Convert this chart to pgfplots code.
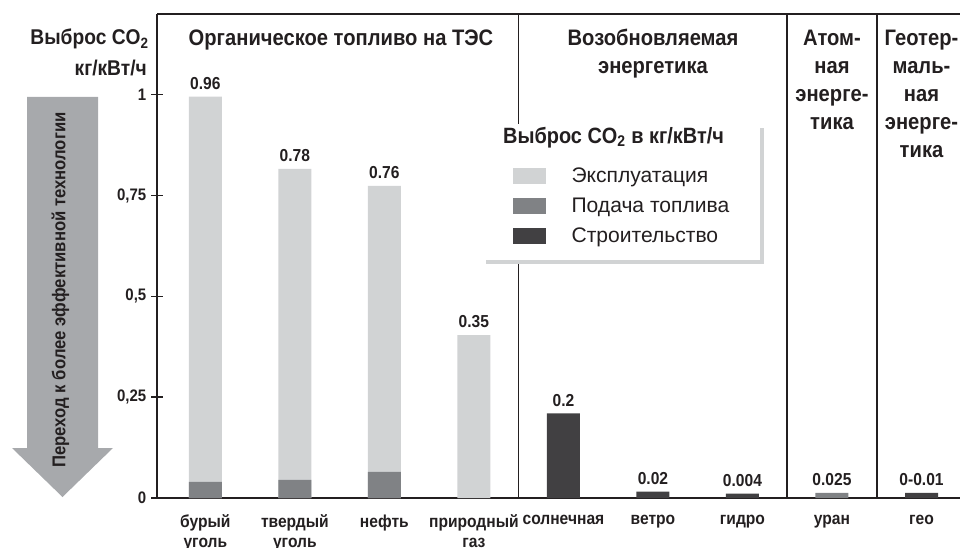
\documentclass[border=0pt]{standalone}
\usepackage{pgfplots}
\pgfplotsset{compat=1.18}
\usepackage{fontspec}
\setmainfont{Liberation Sans}
\newfontfamily\cf[FakeStretch=0.9]{Liberation Sans}
\definecolor{cLight}{HTML}{D1D3D4}
\definecolor{cMid}{HTML}{808285}
\definecolor{cDark}{HTML}{414042}
\definecolor{cArrow}{HTML}{A7A9AC}
\definecolor{cText}{HTML}{231F20}
\begin{document}
\begin{tikzpicture}
\begin{scope}[x=0.75pt,y=0.75pt]
% arrow
\fill[cArrow] (27,450) -- (98,450) -- (98,99) -- (113,99) -- (62.5,50) -- (12,99) -- (27,99) -- cycle;
\node[rotate=90, inner sep=0pt, font=\cf\bfseries\fontsize{13.9}{15}\selectfont, text=cText] at (60.5,257) {Переход к более эффективной технологии};
% left title
\node[anchor=base east, inner sep=0pt, font=\cf\bfseries\fontsize{16}{18}\selectfont, text=cText] at (149,502) {Выброс CO\textsubscript{2}};
\node[anchor=base east, inner sep=0pt, font=\cf\bfseries\fontsize{16}{18}\selectfont, text=cText] at (147,471) {кг/кВт/ч};
\end{scope}
\begin{axis}[
  at={(117.75pt,36.75pt)}, anchor=south west, scale only axis,
  width=602.25pt, height=363pt,
  xmin=-0.54, xmax=8.43, ymin=0, ymax=1.2,
  axis x line*=bottom, axis y line*=left,
  axis line style={-, line width=1.2pt, draw=cText},
  ybar, bar width=24.75pt,
  xtick={0,...,8},
  xticklabels={{бурый\\уголь},{твердый\\уголь},{нефть},{природный\\газ},{солнечная},{ветро},{гидро},{уран},{гео}},
  xticklabel style={align=center, font=\cf\bfseries\fontsize{13}{15.2}\selectfont, text=cText, anchor=north, yshift=-4.5pt},
  major x tick style={draw=none},
  ytick={0,0.25,0.5,0.75,1},
  yticklabels={0,{0,25},{0,5},{0,75},1},
  yticklabel style={font=\cf\bfseries\fontsize{12.5}{15}\selectfont, text=cText},
  tick align=center, major tick length=9pt,
  tick style={line width=1.2pt, draw=cText},
  clip=false,
  legend image code/.code={\fill[#1] (0pt,-6pt) rectangle (24.75pt,6pt);},
  legend style={draw=none, fill=none, at={(rel axis cs:0.4433,0.688)}, anchor=north west, inner sep=0pt,
    font=\fontsize{15.8}{18}\selectfont, text=cText, row sep=6pt, cells={anchor=west},
    /tikz/every odd column/.append style={column sep=17pt}},
]
% frame lines
\draw[line width=1.2pt, cText] (rel axis cs:0,1) -- (rel axis cs:1,1);
\draw[line width=1.2pt, cText] (axis cs:3.5,0) -- (axis cs:3.5,1.2);
\draw[line width=1.2pt, cText] (axis cs:6.5,0) -- (axis cs:6.5,1.2);
\draw[line width=1.2pt, cText] (axis cs:7.5,0) -- (axis cs:7.5,1.2);
% operation (total height incl. fuel supply part)
\addplot[fill=cLight, draw=none, bar shift=0pt] coordinates {(0,0.995) (1,0.816) (2,0.774) (3,0.404)};
\addlegendentry{Эксплуатация}
% fuel supply
\addplot[fill=cMid, draw=none, bar shift=0pt] coordinates {(0,0.040) (1,0.045) (2,0.065) (7,0.013)};
\addlegendentry{Подача топлива}
% construction
\addplot[fill=cDark, draw=none, bar shift=0pt] coordinates {(4,0.21) (5,0.016) (6,0.011) (8,0.013)};
\addlegendentry{Строительство}
% legend box with shadow
\fill[cLight] (axis cs:3.134,0.917) rectangle (axis cs:6.240,0.580);
\fill[white] (axis cs:3.089,0.927) rectangle (axis cs:6.196,0.590);
\node[anchor=base west, inner sep=0pt, font=\cf\bfseries\fontsize{16.6}{18}\selectfont, text=cText] at (axis cs:3.324,0.879) {Выброс CO\textsubscript{2} в кг/кВт/ч};
% value labels
\begin{scope}[every node/.style={anchor=south, inner sep=0pt, yshift=5pt, font=\cf\bfseries\fontsize{13}{15}\selectfont, text=cText}]
\node at (axis cs:0,0.995) {0.96};
\node at (axis cs:1,0.816) {0.78};
\node at (axis cs:2,0.774) {0.76};
\node at (axis cs:3,0.404) {0.35};
\node at (axis cs:4,0.21) {0.2};
\node at (axis cs:5,0.016) {0.02};
\node at (axis cs:6,0.011) {0.004};
\node at (axis cs:7,0.013) {0.025};
\node at (axis cs:8,0.013) {0-0.01};
\end{scope}
\end{axis}
\begin{scope}[x=0.75pt,y=0.75pt]
% group headers (anchor=base is the last line's baseline)
\begin{scope}[every node/.style={anchor=base, inner sep=0pt, align=center, font=\cf\bfseries\fontsize{16.8}{21}\selectfont, text=cText}]
\node at (341,501) {Органическое топливо на ТЭС};
\node at (653,473) {Возобновляемая\\энергетика};
\node at (832,417) {Атом-\\ная\\энерге-\\тика};
\node at (921.5,389) {Геотер-\\маль-\\ная\\энерге-\\тика};
\end{scope}
\pgfresetboundingbox
\useasboundingbox (0,0) rectangle (960,547);
\end{scope}
\end{tikzpicture}
\end{document}
